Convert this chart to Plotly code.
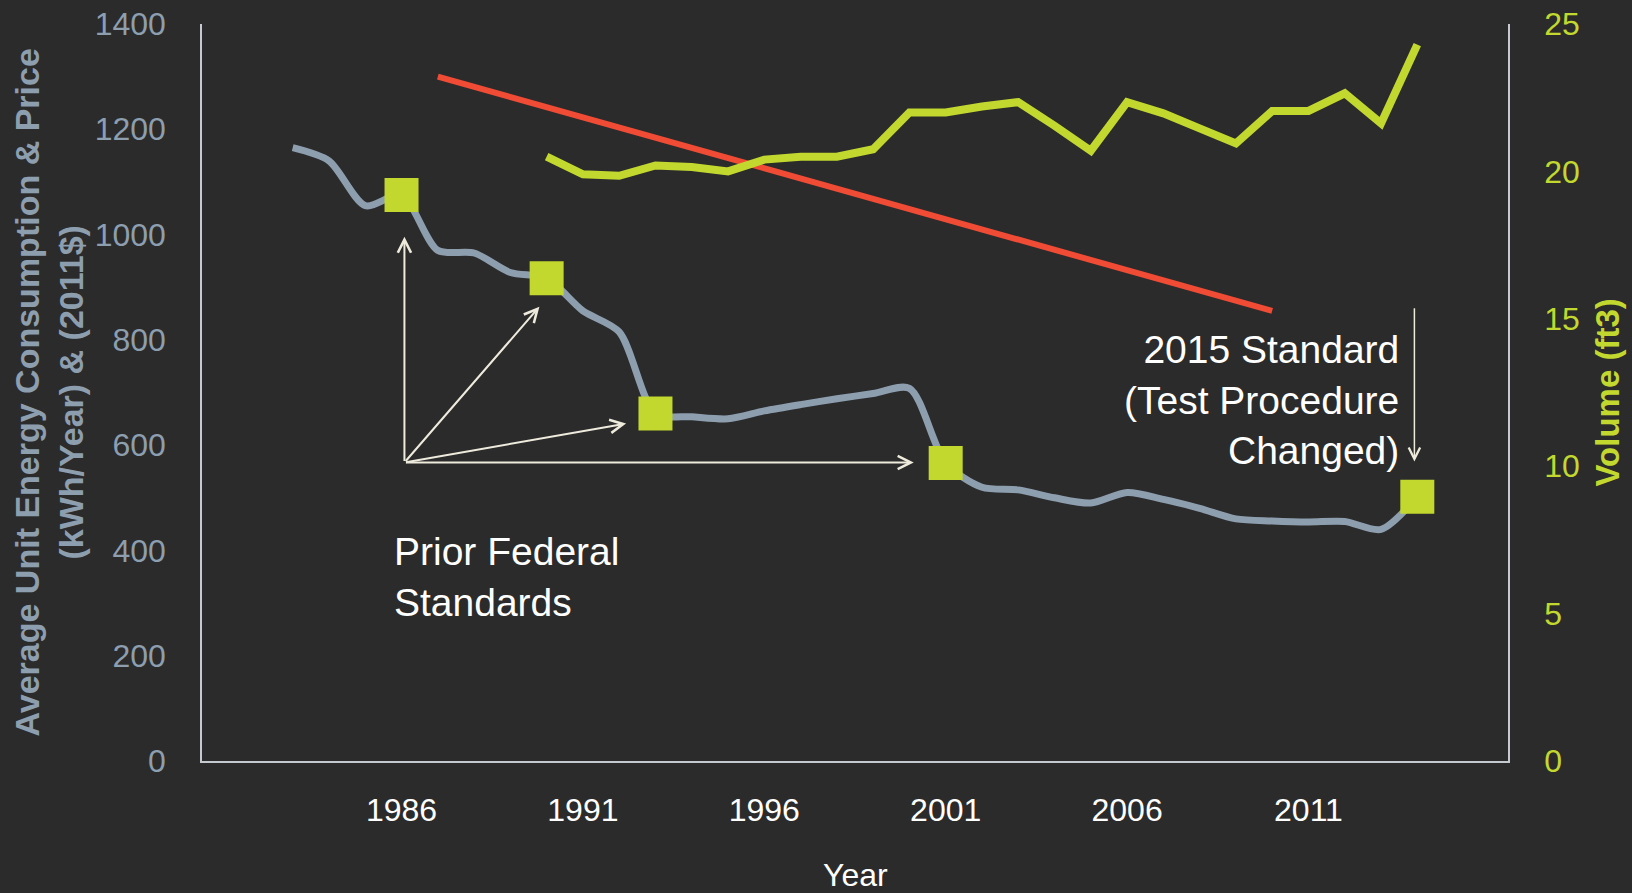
import plotly.graph_objects as go

# ---- data ----
uec_years = list(range(1983, 2015))
uec_values = [1165, 1140, 1055, 1075, 970, 965, 928, 917, 855, 815,
              660, 654, 650, 665, 677, 688, 698, 708, 566, 520,
              515, 500, 490, 510, 497, 480, 460, 456, 454, 455,
              440, 502]

vol_years = list(range(1990, 2015))
vol_values = [20.5, 19.9, 19.85, 20.2, 20.15, 20.0, 20.4, 20.5, 20.5, 20.75,
              22.0, 22.0, 22.2, 22.35, 21.55, 20.7, 22.35, 21.97, 21.46, 20.95,
              22.05, 22.05, 22.65, 21.63, 24.3]

price_years = [1987, 2010]
price_values = [1300, 855]

std_years = [1986, 1990, 1993, 2001, 2014]
std_values = [1075, 917, 660, 566, 502]

x_ticks = [1986, 1991, 1996, 2001, 2006, 2011]
y_ticks = [0, 200, 400, 600, 800, 1000, 1200, 1400]
y2_ticks = [0, 5, 10, 15, 20, 25]

# ---- styles ----
BG = "#2b2b2b"
GRAY = "#8D9EAF"
GREEN = "#C2D82E"
RED = "#F04B35"
ARROW = "#EEEBDD"
AXIS = "#C5CAD0"
FONT = "Liberation Sans, Arial, sans-serif"

fig = go.Figure()

fig.add_trace(go.Scatter(x=vol_years, y=vol_values, yaxis="y2", mode="lines",
                         line=dict(color=GREEN, width=8), showlegend=False))
fig.add_trace(go.Scatter(x=price_years, y=price_values, mode="lines",
                         line=dict(color=RED, width=6), showlegend=False))
fig.add_trace(go.Scatter(x=uec_years, y=uec_values, mode="lines",
                         line=dict(color=GRAY, width=7, shape="spline", smoothing=0.8),
                         showlegend=False))
fig.add_trace(go.Scatter(x=std_years, y=std_values, mode="markers",
                         marker=dict(symbol="square", size=34, color=GREEN),
                         cliponaxis=False, showlegend=False))

annotations = []
# Prior federal standards arrows (tail shared)
tail_x, tail_y = 1986.08, 567
for tx, ty in [(1986.08, 996), (1989.8, 863), (1992.19, 641), (2000.12, 567)]:
    annotations.append(dict(x=tx, y=ty, ax=tail_x, ay=tail_y, xref="x", yref="y",
                            axref="x", ayref="y", text="", showarrow=True,
                            arrowhead=5, arrowsize=1.3, arrowwidth=2, arrowcolor=ARROW))
# 2015 standard arrow
annotations.append(dict(x=2013.92, y=569, ax=2013.92, ay=863, xref="x", yref="y",
                        axref="x", ayref="y", text="", showarrow=True,
                        arrowhead=5, arrowsize=1.5, arrowwidth=1.5, arrowcolor=ARROW))

annotations.append(dict(x=1985.75, y=349, xref="x", yref="y", xanchor="left", yanchor="middle",
                        align="left", showarrow=False,
                        text="Prior Federal<br>Standards",
                        font=dict(family=FONT, size=39, color="white")))
annotations.append(dict(x=2013.55, y=686, xref="x", yref="y", xanchor="right", yanchor="middle",
                        align="right", showarrow=False,
                        text="2015 Standard<br>(Test Procedure<br>Changed)",
                        font=dict(family=FONT, size=39, color="white")))

# axis titles
annotations.append(dict(x=0, y=0.5, xref="paper", yref="paper", xshift=-154,
                        xanchor="center", yanchor="middle", textangle=-90, showarrow=False,
                        align="center",
                        text="<b>Average Unit Energy Consumption & Price<br>(kWh/Year) & (2011$)</b>",
                        font=dict(family=FONT, size=34, color=GRAY)))
annotations.append(dict(x=1, y=0.5, xref="paper", yref="paper", xshift=99,
                        xanchor="center", yanchor="middle", textangle=-90, showarrow=False,
                        text="<b>Volume (ft3)</b>",
                        font=dict(family=FONT, size=33, color=GREEN)))
annotations.append(dict(x=0.5, y=0, xref="paper", yref="paper", yshift=-114,
                        xanchor="center", yanchor="middle", showarrow=False,
                        text="Year", font=dict(family=FONT, size=32, color="white")))

fig.update_layout(
    width=1632, height=893,
    margin=dict(l=202, r=124, t=24, b=132, autoexpand=False),
    paper_bgcolor=BG, plot_bgcolor=BG,
    font=dict(family=FONT),
    showlegend=False,
    annotations=annotations,
    xaxis=dict(range=[1980.5, 2016.5], tickvals=x_ticks, ticks="", showgrid=False,
               zeroline=False, showline=True, linecolor=AXIS, linewidth=1.5, automargin=False,
               tickfont=dict(family=FONT, size=32, color="white"), ticklabelstandoff=20),
    yaxis=dict(range=[0, 1400], tickvals=y_ticks, ticks="", showgrid=False,
               zeroline=False, showline=True, linecolor=AXIS, linewidth=1.5, automargin=False,
               tickfont=dict(family=FONT, size=32, color=GRAY), ticklabelstandoff=28),
    yaxis2=dict(range=[0, 25], tickvals=y2_ticks, ticks="", showgrid=False,
                zeroline=False, showline=True, linecolor=AXIS, linewidth=1.5, automargin=False,
                overlaying="y", side="right",
                tickfont=dict(family=FONT, size=32, color=GREEN), ticklabelstandoff=28),
)

fig.write_html(
    "out.html",
    config={"displayModeBar": False},
    post_script="document.body.style.margin='0';document.body.style.overflow='hidden';"
                "document.body.style.background='" + BG + "';",
)
